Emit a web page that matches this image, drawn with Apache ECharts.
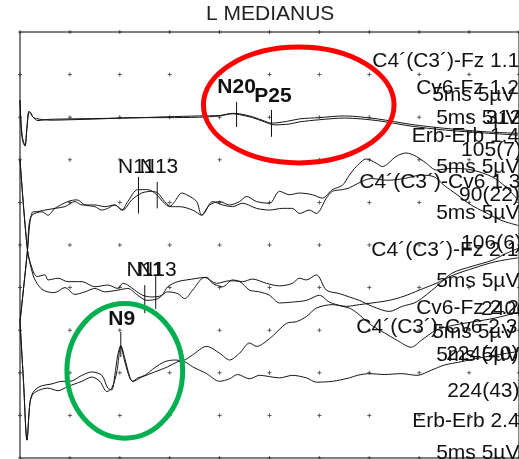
<!DOCTYPE html>
<html><head><meta charset="utf-8">
<script src="https://cdn.jsdelivr.net/npm/echarts@6/dist/echarts.min.js"></script>
<style>html,body{margin:0;padding:0;background:#fff}#c{width:519px;height:459px}</style>
</head><body><div id="c"></div>
<script>
const chartTitle = 'L MEDIANUS';
const tickValues = [0,5,10,15,20,25,30,35,40,45,50];

// trace pair A (top)
const timesA1 = [0,0.1,0.25,0.5,0.7,0.9,1.1,1.3,1.8,2.5,3,5,8,11,14.7,18,20,21.3,22,23.3,24.5,25.2,26.7,28,30,32.5,35.8,39.2,42.5,46.5,49.9];
const valuesA1 = [42.0,39.4,37.6,36.7,38.7,40.6,40.4,40.0,39.6,39.7,39.75,39.8,39.85,39.9,40.05,40.15,40.2,40.45,40.4,40.05,39.55,39.3,39.5,39.8,39.95,40.15,39.8,39.15,38.7,38.3,38.1];
const timesA2 = [0,0.1,0.25,0.5,0.7,0.9,1.1,1.3,1.8,3,5,8,11,14.7,18,20,21.3,22,23.3,24.5,25.5,27,28,30,32.5,35.8,39.2,42.5,46.5,49.9];
const valuesA2 = [42.0,39.2,37.3,36.6,38.95,40.7,40.5,40.0,39.8,39.65,39.7,39.8,39.95,39.95,40.0,40.15,40.4,40.3,39.95,39.45,39.1,39.2,39.45,39.7,39.9,39.6,38.95,38.5,38.15,37.9];
// trace pair B
const timesB1 = [0,0.75,1.0,1.3,1.5,2.5,3.5,4.5,5.5,6.2,7.5,8.5,9.5,10.2,10.8,11.8,12.8,13.7,14.3,15.0,15.5,16.2,16.7,17.7,18.2,19.0,20.0,21.0,22.0,22.7,23.7,25.0,26.0,27.0,28.0,29.3,30.3,31.3,32.3,33.0,33.7,34.7,35.7,36.3,37.7,38.7,39.7,40.7,41.7,43.3,45.3,47.3,48.7,49.9];
const valuesB1 = [16.0,24.4,27.7,28.9,28.9,29.1,29.3,29.5,30.1,29.7,29.7,29.5,29.7,29.1,30.1,31.5,31.5,30.9,30.1,29.5,30.1,31.1,30.9,30.1,28.5,29.7,30.1,29.7,30.1,30.7,30.1,29.9,31.3,30.9,31.1,30.9,30.5,31.5,32.0,33.2,34.2,35.1,34.6,34.2,35.4,35.8,35.4,34.6,33.8,34.0,33.8,33.0,31.8,30.3];
const timesB2 = [0,0.75,0.9,1.2,2.2,2.8,3.5,4.8,5.7,6.5,7.5,8.2,8.8,9.5,10.3,11.2,12.2,13.2,13.8,14.5,15.2,16.0,17.3,18.2,19.3,20.3,21.3,22.3,23.7,25.0,26.3,27.3,28.0,29.0,29.7,30.7,31.3,32.3,33.0,33.8,35.2,36.8,38.5,40.2,41.5,42.5,43.8,45.2,46.5,48.2,49.9];
const valuesB2 = [16.0,24.4,27.3,28.5,28.9,28.5,29.3,30.1,30.3,29.7,29.5,29.1,29.3,29.7,29.1,30.3,31.1,31.3,31.1,30.1,29.5,29.5,29.1,28.5,30.1,29.7,29.5,29.9,29.3,29.1,29.3,29.3,28.7,29.1,28.7,30.5,31.3,31.5,31.7,32.2,32.8,32.6,32.8,33.2,33.0,32.0,30.9,29.7,28.9,27.9,27.3];
// trace pair C
const timesC1 = [0,0.75,1.2,1.7,2.5,2.8,3.8,4.8,6.2,7.5,8.8,9.8,10.3,10.8,11.5,12.3,13.2,14.2,14.8,15.8,16.7,18.7,19.3,20.3,21.3,22.3,23.3,24.7,26.0,27.3,28.0,28.7,29.7,30.7,32.0,33.0,34.0,35.3,37.0,38.3,39.7,41.7,43.3,45.3,47.3,48.7,49.9];
const valuesC1 = [35.0,24.4,22.3,21.3,21.5,20.9,21.1,20.7,20.7,20.1,20.3,19.9,20.5,20.3,19.7,19.1,18.9,19.1,20.1,20.7,20.9,21.2,20.5,20.1,20.9,20.7,21.0,20.5,20.2,20.5,21.1,20.9,21.5,19.7,19.3,18.9,18.5,17.8,17.2,17.8,18.3,20.1,21.7,22.5,23.2,24.0,24.6];
const timesC2 = [0,0.75,1.3,1.6,2.2,3.3,3.7,4.5,5.5,6.5,7.5,8.5,9.8,10.8,11.8,12.7,13.8,14.8,15.8,16.5,17.3,18.5,19.7,21.0,22.0,23.0,24.0,25.0,26.0,27.3,28.7,30.0,31.0,32.3,33.0,33.8,35.2,36.5,37.8,39.2,40.2,41.7,43.5,45.5,47.5,49.9];
const valuesC2 = [35.0,24.4,21.5,20.7,19.8,19.4,19.5,20.0,19.2,19.5,19.9,19.5,19.7,19.9,19.1,18.5,18.7,19.5,19.3,18.7,19.7,21.2,20.5,20.8,20.7,19.7,19.5,19.1,18.2,18.3,18.5,19.1,18.3,17.8,17.6,17.0,15.6,14.7,13.8,13.0,13.8,15.0,15.6,16.0,16.4,17.1];
// trace pair D (N9)
const timesD1 = [0,0.35,0.7,1.0,1.3,2.0,3.2,4.2,5.0,6.2,7.2,8.2,8.8,9.2,9.5,9.8,10.1,10.5,11.0,11.3,11.8,12.5,13.5,14.5,15.5,16.5,17.3,18.7,20.0,21.0,21.8,23.0,24.0,25.3,26.0,27.3,28.7,29.7,31.3,33.0,33.8,35.0,36.5,38.2,39.8,41.2,42.5,44.2,45.8,47.8,49.9];
const valuesD1 = [16.0,9.0,2.1,6.5,7.7,8.4,8.7,9.0,9.0,9.7,10.1,9.7,8.2,8.0,9.7,12.1,13.2,11.7,9.5,9.0,9.4,9.7,10.6,11.3,11.5,11.3,10.7,9.9,9.0,9.3,9.8,9.3,9.7,9.5,9.4,9.7,9.4,8.9,9.0,9.4,9.7,9.9,9.8,9.9,9.7,10.3,10.9,11.3,11.7,12.1,12.5];
const timesD2 = [0,0.35,0.7,1.0,1.3,2.0,2.8,3.8,4.8,6.2,7.2,8.0,8.7,9.2,9.7,10.1,10.5,11.0,11.3,12.2,13.5,14.8,15.8,16.5,17.3,18.7,20.0,21.0,22.0,23.0,23.7,25.0,26.7,27.7,28.7,29.7,31.3,32.7,34.0,35.3,37.0,38.5,40.0,41.7,43.5,45.5,47.5,49.9];
const valuesD2 = [16.0,9.0,2.1,6.5,7.5,8.0,8.2,7.9,8.4,9.0,9.5,9.0,7.8,8.2,10.1,13.1,11.3,9.4,9.0,9.5,10.1,10.7,11.3,11.5,12.1,13.1,12.3,11.5,12.3,13.5,13.1,14.0,15.8,16.0,16.6,17.6,18.0,17.8,18.0,18.2,18.5,19.0,19.7,20.5,21.5,22.3,23.0,23.5];

// peak markers: [time, top value, bottom value]
const peakMarkers = [[21.7,41.8,38.85],[25.2,40.85,37.7],[11.87,33.0,28.7],[13.75,32.4,29.3],[12.5,20.3,17.0],[13.6,21.4,17.5],[10.1,14.8,11.85]];
// peak labels: [text, time, value]
const peakLabelsBold = [['N20',21.7,43.5],['P25',25.35,42.5],['N9',10.2,16.3]];
const peakLabelsPlain = [['N11',9.83,34.15],['N13',12.0,34.15],['N11',10.67,22.1],['N13',11.83,22.1]];
// channel texts: [text, time, value]
const channelTexts = [
 ['C4´(C3´)-Fz 1.1',35.3,46.6],
 ['Cv6-Fz 1.2',39.7,43.4],
 ['5ms 5µV',41.3,42.6],
 ['5ms 5µV',41.7,39.9],
 ['312(8)',46.7,39.9],
 ['Erb-Erb 1.4',39.25,37.8],
 ['105(7)',44.2,36.15],
 ['5ms 5µV',41.7,34.15],
 ['C4´(C3´)-Cv6 1.3',34.0,32.4],
 ['90(22)',44.0,30.9],
 ['5ms 5µV',41.7,28.75],
 ['C4´(C3´)-Fz 2.1',35.2,24.4],
 ['106(6)',44.2,25.2],
 ['5ms 5µV',41.7,20.7],
 ['Cv6-Fz 2.2',39.7,17.6],
 ['240(6)',46.2,17.5],
 ['C4´(C3´)-Cv6 2.3',33.7,15.4],
 ['5ms 5µV',41.3,14.8],
 ['5ms 5µV',41.7,12.1],
 ['224(40)',42.7,12.2],
 ['224(43)',42.8,7.8],
 ['Erb-Erb 2.4',39.3,4.3],
 ['5ms 5µV',41.7,0.6]
];
// highlight ellipses: [center time, center value, half-width ms, half-height µV]
const highlightEllipses = [[27.93,41.43,9.55,6.8],[10.5,10.23,5.8,7.9]];
const ellipseColors = ['#ff0000','#00b050'];

const FONT = '"Liberation Sans", Arial, sans-serif';
function zip(ts, vs){ const n=Math.min(ts.length,vs.length); const o=[]; for(let i=0;i<n;i++) o.push([ts[i],vs[i]]); return o; }
const traces = [[timesA1,valuesA1],[timesA2,valuesA2],[timesB1,valuesB1],[timesB2,valuesB2],[timesC1,valuesC1],[timesC2,valuesC2],[timesD1,valuesD1],[timesD2,valuesD2]];
const gridPts = []; tickValues.forEach(x=>tickValues.forEach(y=>gridPts.push([x,y])));

const lineSeries = traces.map(tr=>({
  type:'line', data: zip(tr[0],tr[1]), showSymbol:false, smooth:0.3, z:3,
  lineStyle:{color:'#151515', width:1}, silent:true
}));

const allTexts = [];
peakLabelsBold.forEach(r=>allTexts.push({t:r[0], x:r[1], y:r[2], font:'bold 21px '+FONT, align:'center'}));
peakLabelsPlain.forEach(r=>allTexts.push({t:r[0], x:r[1], y:r[2], font:'21px '+FONT, align:'left'}));
channelTexts.forEach(r=>allTexts.push({t:r[0], x:r[1], y:r[2], font:'21px '+FONT, align:'left'}));

const chart = echarts.init(document.getElementById('c'), null, {renderer:'canvas'});
chart.setOption({
  animation:false,
  backgroundColor:'#fff',
  title:{text:chartTitle, left:206, top:4, padding:0, textStyle:{fontFamily:FONT, fontSize:21, fontWeight:'normal', color:'#222'}},
  grid:{left:20, top:32, width:500, height:426, show:true, borderColor:'#000', borderWidth:1, backgroundColor:'transparent'},
  xAxis:{type:'value', min:0, max:50, interval:5, axisLine:{show:false}, axisTick:{show:false}, axisLabel:{show:false}, splitLine:{show:false}},
  yAxis:{type:'value', min:0, max:50, interval:5, axisLine:{show:false}, axisTick:{show:false}, axisLabel:{show:false}, splitLine:{show:false}},
  series:[
    {type:'scatter', data:gridPts, symbol:'path://M1.5,0h1v1.5h1.5v1h-1.5v1.5h-1v-1.5h-1.5v-1h1.5z', symbolSize:4, itemStyle:{color:'#333'}, silent:true, z:1},
    ...lineSeries,
    {type:'custom', data:peakMarkers, silent:true, z:4, encode:{x:0, y:[1,2]},
      renderItem:(p,api)=>{ const a=api.coord([api.value(0),api.value(1)]); const b=api.coord([api.value(0),api.value(2)]);
        return {type:'line', shape:{x1:a[0],y1:a[1],x2:b[0],y2:b[1]}, style:{stroke:'#111', lineWidth:1}}; }},
    {type:'custom', data:allTexts.map(o=>[o.x,o.y]), silent:true, z:5, encode:{x:0,y:1},
      renderItem:(p,api)=>{ const o=allTexts[p.dataIndex]; const c=api.coord([api.value(0),api.value(1)]);
        return {type:'text', x:c[0], y:c[1], style:{text:o.t, fill:'#111', font:o.font, align:o.align, verticalAlign:'middle'}}; }},
    {type:'custom', data:highlightEllipses, silent:true, z:10, encode:{x:0,y:1},
      renderItem:(p,api)=>{ const c=api.coord([api.value(0),api.value(1)]); const s=api.size([api.value(2),api.value(3)]);
        return {type:'ellipse', shape:{cx:c[0],cy:c[1],rx:s[0],ry:s[1]}, style:{fill:null, stroke:ellipseColors[p.dataIndex], lineWidth:5}}; }}
  ]
});
</script></body></html>
